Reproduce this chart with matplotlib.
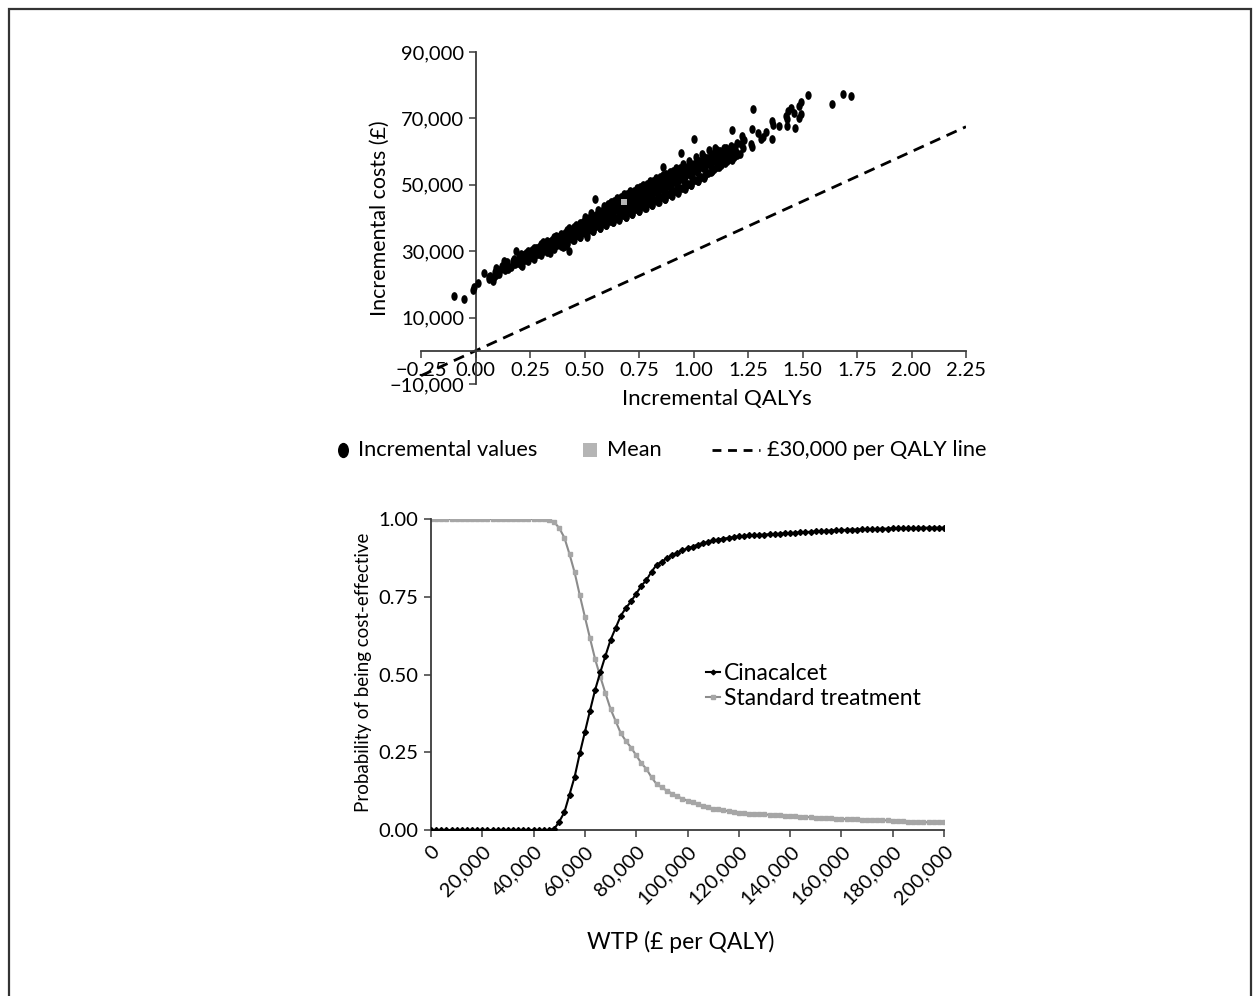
import matplotlib
matplotlib.use("Agg")
import matplotlib.pyplot as plt
import matplotlib.transforms as mtransforms
from matplotlib.path import Path
from matplotlib.lines import Line2D
from matplotlib.patches import Rectangle
from matplotlib.ticker import FuncFormatter
import numpy as np

plt.rcParams["font.family"] = ["Lato", "DejaVu Sans"]
plt.rcParams["axes.unicode_minus"] = True

# Incremental QALYs / incremental costs (GBP) from the PSA runs
psa_points = [
    # low tail
    (-0.097, 16600), (-0.051, 15600), (-0.009, 19100), (-0.013, 18300), (0.011, 20400),
    (0.037, 23300), (0.062, 22100), (0.080, 21100), (0.094, 22800), (0.131, 26900),
    (0.137, 25100), (0.174, 26100), (0.184, 30100), (0.212, 25600), (0.06, 21500),
    (0.065, 22400), (0.085, 22300), (0.09, 23600), (0.095, 24900),
    # main band
    (0.11, 23200), (0.115, 24500), (0.12, 25600),
    (0.135, 24300), (0.14, 25900), (0.145, 26800), (0.15, 24600),
    (0.165, 25300), (0.17, 26900), (0.175, 27800), (0.18, 26200),
    (0.195, 26500), (0.20, 28300), (0.205, 27200), (0.21, 29100), (0.21, 25700),
    (0.225, 27400), (0.23, 29500), (0.235, 28300), (0.24, 30200), (0.24, 26900),
    (0.255, 28200), (0.26, 30300), (0.265, 29200), (0.27, 31000), (0.27, 27800),
    (0.285, 29300), (0.29, 31300), (0.295, 30200), (0.30, 32100), (0.30, 28800),
    (0.315, 30300), (0.32, 32400), (0.325, 31200), (0.33, 33100), (0.33, 29900), (0.325, 30500),
    (0.345, 31100), (0.35, 33400), (0.355, 32200), (0.36, 34200), (0.36, 30800),
    (0.375, 32000), (0.38, 34400), (0.385, 33200), (0.39, 35300), (0.39, 31700),
    (0.405, 33000), (0.41, 35500), (0.415, 34200), (0.42, 36300), (0.42, 32600), (0.41, 31500),
    (0.435, 33900), (0.44, 36500), (0.445, 35100), (0.45, 37400), (0.45, 33500),
    (0.465, 34800), (0.47, 37600), (0.475, 36100), (0.48, 38500), (0.48, 34400),
    (0.495, 35700), (0.50, 38600), (0.505, 37100), (0.51, 39600), (0.51, 35300), (0.50, 40300),
    (0.525, 36600), (0.53, 39700), (0.535, 38100), (0.54, 40700), (0.54, 36200), (0.53, 41400),
    (0.555, 37500), (0.56, 40700), (0.565, 39000), (0.57, 41800), (0.57, 37000), (0.56, 42500),
    (0.585, 38400), (0.59, 41800), (0.595, 40000), (0.60, 42900), (0.60, 37900), (0.59, 43600),
    (0.615, 39200), (0.62, 42800), (0.625, 41000), (0.63, 44000), (0.63, 38700), (0.62, 44800),
    (0.645, 40100), (0.65, 43800), (0.655, 42000), (0.66, 45000), (0.66, 39500), (0.65, 46000),
    (0.675, 41000), (0.68, 44800), (0.685, 43000), (0.69, 46100), (0.69, 40300), (0.68, 47200), (0.685, 42000),
    (0.705, 41800), (0.71, 45800), (0.715, 44000), (0.72, 47100), (0.72, 41100), (0.71, 48100), (0.715, 43000),
    (0.735, 42700), (0.74, 46800), (0.745, 45000), (0.75, 48100), (0.75, 42000), (0.74, 49100), (0.745, 44000),
    (0.765, 43600), (0.77, 47800), (0.775, 46000), (0.78, 49200), (0.78, 42900), (0.77, 50000), (0.775, 45000),
    (0.795, 44500), (0.80, 48800), (0.805, 47000), (0.81, 50200), (0.81, 43800), (0.80, 51000), (0.805, 46000),
    (0.825, 45400), (0.83, 49800), (0.835, 48000), (0.84, 51200), (0.84, 44700), (0.83, 52000), (0.835, 47000),
    (0.855, 46300), (0.86, 50800), (0.865, 49000), (0.87, 52200), (0.87, 45600), (0.86, 53000), (0.865, 48000),
    (0.885, 47200), (0.89, 51800), (0.895, 50000), (0.90, 53200), (0.90, 46600), (0.89, 54000), (0.895, 49000),
    (0.915, 48100), (0.92, 52800), (0.925, 51000), (0.93, 54300), (0.93, 47600), (0.92, 55200), (0.925, 50000),
    (0.945, 49100), (0.95, 53800), (0.955, 52000), (0.96, 55300), (0.96, 48700), (0.95, 56200), (0.955, 51000),
    (0.975, 50200), (0.98, 54800), (0.985, 53000), (0.99, 56300), (0.99, 49900), (0.98, 57200),
    (1.005, 51300), (1.01, 55800), (1.015, 54000), (1.02, 57300), (1.02, 51000), (1.01, 58300),
    (1.035, 52400), (1.04, 56800), (1.045, 55000), (1.05, 58300), (1.05, 52300), (1.04, 59400),
    (1.065, 53500), (1.07, 57800), (1.075, 56000), (1.08, 59400), (1.08, 54000), (1.07, 60400),
    (1.095, 54800), (1.10, 58800), (1.105, 57000), (1.11, 60400), (1.11, 55500), (1.10, 61000),
    (1.125, 56000), (1.13, 59700), (1.135, 58000), (1.14, 61200), (1.14, 57000),
    (1.155, 57200), (1.16, 60500), (1.165, 59000), (1.17, 61600), (1.17, 57800),
    (1.185, 58300), (1.19, 61400), (1.195, 60000), (1.20, 62600), (1.20, 59000),
    (1.215, 59400), (1.22, 62400), (1.225, 61000), (1.23, 63600),
    # core, in-between runs
    (0.215, 26900), (0.218, 28900), (0.212, 27900),
    (0.245, 27900), (0.248, 29900), (0.242, 28900),
    (0.275, 28900), (0.278, 30900), (0.272, 29900),
    (0.305, 29900), (0.308, 31900), (0.302, 30900), (0.311, 32700),
    (0.335, 30900), (0.338, 32900), (0.332, 31900), (0.341, 29600),
    (0.365, 31800), (0.368, 33900), (0.362, 32900), (0.371, 34600),
    (0.395, 32700), (0.398, 34900), (0.392, 33900), (0.401, 31400),
    (0.425, 33600), (0.428, 35900), (0.422, 34800), (0.431, 36900), (0.419, 32300),
    (0.455, 34500), (0.458, 36900), (0.452, 35800), (0.461, 37900), (0.449, 33400),
    (0.485, 35400), (0.488, 37900), (0.482, 36700), (0.491, 38900), (0.479, 34300),
    (0.515, 36300), (0.518, 38900), (0.512, 37600), (0.521, 40000), (0.509, 35200),
    (0.545, 37200), (0.548, 39900), (0.542, 38600), (0.551, 41000), (0.539, 36100),
    (0.575, 38100), (0.578, 40900), (0.572, 39600), (0.581, 42100), (0.569, 36900),
    (0.605, 39000), (0.608, 41900), (0.602, 40600), (0.611, 43100), (0.599, 37800), (0.606, 44100),
    (0.635, 39900), (0.638, 42900), (0.632, 41500), (0.641, 44100), (0.629, 38700), (0.636, 45100),
    (0.665, 40800), (0.668, 43900), (0.662, 42500), (0.671, 45100), (0.659, 39600), (0.666, 46200),
    (0.695, 41700), (0.698, 44900), (0.692, 43400), (0.701, 46200), (0.689, 40400), (0.696, 47200),
    (0.725, 42600), (0.728, 45900), (0.722, 44400), (0.731, 47200), (0.719, 41300), (0.726, 48200),
    (0.755, 43500), (0.758, 46900), (0.752, 45400), (0.761, 48200), (0.749, 42200), (0.756, 49200),
    (0.785, 44400), (0.788, 47900), (0.782, 46400), (0.791, 49200), (0.779, 43100), (0.786, 50200),
    (0.815, 45300), (0.818, 48900), (0.812, 47400), (0.821, 50200), (0.809, 44000), (0.816, 51200),
    (0.845, 46200), (0.848, 49900), (0.842, 48400), (0.851, 51200), (0.839, 44900), (0.846, 52200),
    (0.875, 47100), (0.878, 50900), (0.872, 49400), (0.881, 52200), (0.869, 45800), (0.876, 53200),
    (0.905, 48000), (0.908, 51900), (0.902, 50400), (0.911, 53200), (0.899, 46800), (0.906, 54200),
    (0.935, 49000), (0.938, 52900), (0.932, 51400), (0.941, 54200), (0.929, 47800), (0.936, 55200),
    (0.965, 50000), (0.968, 53900), (0.962, 52400), (0.971, 55200), (0.959, 48900),
    (0.995, 51000), (0.998, 54900), (0.992, 53400), (1.001, 56200), (0.989, 49900),
    (1.025, 52000), (1.028, 55900), (1.022, 54400), (1.031, 57200), (1.019, 51000),
    (1.055, 53100), (1.058, 56900), (1.052, 55400), (1.061, 58200), (1.049, 52000),
    (1.085, 54200), (1.088, 57900), (1.082, 56400), (1.091, 59200),
    (1.115, 55300), (1.118, 58900), (1.112, 57400), (1.121, 60200),
    (1.145, 56500), (1.148, 59900), (1.142, 58400), (1.151, 61000),
    (1.175, 57600), (1.178, 60900), (1.172, 59400),
    # high tail
    (0.431, 30100), (0.512, 34200), (0.549, 45700), (0.858, 55300), (0.943, 59600),
    (1.003, 63800), (1.175, 66400), (1.224, 64600), (1.228, 63600), (1.265, 62300),
    (1.267, 61500), (1.267, 66700), (1.271, 72700), (1.295, 65600), (1.308, 63800),
    (1.317, 64400), (1.331, 65900), (1.361, 63800), (1.361, 69200), (1.364, 68100),
    (1.392, 67700), (1.424, 70600), (1.430, 69900), (1.430, 67700), (1.435, 72100),
    (1.445, 73100), (1.462, 71600), (1.467, 67100), (1.484, 70200), (1.486, 73600),
    (1.492, 74900), (1.492, 71200), (1.524, 77100), (1.636, 74200), (1.687, 77200),
    (1.724, 76600),
]
mean_qaly = 0.68
mean_cost = 44800
threshold = 30000  # GBP per QALY

# Cost-effectiveness acceptability curves
wtp = np.arange(0, 200001, 2000)
cinacalcet = [0.0] * 24 + [
    0.003, 0.027, 0.057, 0.114, 0.171, 0.246, 0.315, 0.384, 0.451, 0.507,
    0.560, 0.611, 0.650, 0.689, 0.714, 0.735, 0.760, 0.785, 0.804, 0.831,
    0.853, 0.863, 0.874, 0.883, 0.892, 0.899, 0.906, 0.911, 0.918, 0.922,
    0.926, 0.931, 0.934, 0.937, 0.939, 0.942, 0.944, 0.946, 0.947, 0.948,
    0.949, 0.950, 0.951, 0.952, 0.953, 0.954, 0.955, 0.956, 0.957, 0.958,
    0.959, 0.960, 0.961, 0.962, 0.963, 0.964, 0.965, 0.965, 0.966, 0.966,
    0.967, 0.967, 0.968, 0.968, 0.969, 0.969, 0.970, 0.970, 0.971, 0.971,
    0.971, 0.971, 0.972, 0.972, 0.972, 0.972, 0.972,
]
standard = [1.0] * 23 + [
    0.998, 0.990, 0.971, 0.940, 0.887, 0.828, 0.755, 0.685, 0.616, 0.549,
    0.493, 0.440, 0.389, 0.350, 0.311, 0.286, 0.265, 0.240, 0.215, 0.196,
    0.169, 0.147, 0.137, 0.126, 0.117, 0.108, 0.101, 0.094, 0.089, 0.082,
    0.078, 0.074, 0.069, 0.066, 0.063, 0.061, 0.058, 0.056, 0.054, 0.053,
    0.052, 0.051, 0.050, 0.049, 0.048, 0.047, 0.046, 0.045, 0.044, 0.043,
    0.042, 0.041, 0.040, 0.039, 0.038, 0.037, 0.036, 0.035, 0.035, 0.034,
    0.034, 0.033, 0.033, 0.032, 0.032, 0.031, 0.031, 0.030, 0.030, 0.029,
    0.027, 0.026, 0.026, 0.025, 0.025, 0.025, 0.025, 0.025,
]

qaly, cost = np.array(psa_points).T

FS = 14.5
AXC = "#3a3a3a"
ellipse = Path.unit_circle().transformed(mtransforms.Affine2D().scale(0.72, 1.0))


def fx(px):
    return px / 1260


def fy(py):
    return 1 - py / 996


fig = plt.figure(figsize=(12.6, 9.96), dpi=100)

# page frame
fig.patches.append(Rectangle((fx(9), -0.02), 1242 / 1260, 1.011, transform=fig.transFigure,
                             fill=False, ec="#333333", lw=1.6))

# ---- cost-effectiveness plane ----
ax1 = fig.add_axes([fx(421), fy(384), 545 / 1260, 332 / 996])
ax1.plot([-0.25, 2.25], [-0.25 * threshold, 2.25 * threshold], color="black",
         lw=2.0, ls=(0, (4, 2.5)), zorder=2)
ax1.plot(qaly, cost, ls="none", marker=ellipse, ms=6.3, color="black", mew=0, zorder=3)
ax1.plot([mean_qaly], [mean_cost], ls="none", marker="s", ms=5, color="#b5b5b5", mew=0, zorder=4)
ax1.set_xlim(-0.25, 2.25)
ax1.set_ylim(-10000, 90000)
ax1.set_xticks(np.arange(-0.25, 2.26, 0.25))
ax1.set_yticks([-10000, 10000, 30000, 50000, 70000, 90000])
ax1.xaxis.set_major_formatter(FuncFormatter(lambda v, p: f"{v:.2f}".replace("-", "\u2212")))
ax1.yaxis.set_major_formatter(FuncFormatter(lambda v, p: f"{v:,.0f}".replace("-", "\u2212")))
ax1.spines["left"].set_position(("data", 0))
ax1.spines["bottom"].set_position(("data", 0))
for s in ["top", "right"]:
    ax1.spines[s].set_visible(False)
for s in ["left", "bottom"]:
    ax1.spines[s].set_color(AXC)
    ax1.spines[s].set_linewidth(1.3)
ax1.tick_params(direction="out", length=5, width=1.1, color=AXC, labelsize=FS, pad=3)
ax1.set_xlabel("Incremental QALYs", fontsize=16)
ax1.xaxis.set_label_coords(0.543, -0.015)
ax1.set_ylabel("Incremental costs (£)", fontsize=15.4)
ax1.yaxis.set_label_coords(-0.057, 0.5)
ax1.patch.set_visible(False)

# legend row under the plane
LY = fy(450)
LFS = 15.7
fig.add_artist(Line2D([fx(343)], [LY], transform=fig.transFigure, ls="none",
                      marker=ellipse, ms=11, color="black", mew=0))
fig.text(fx(358), LY, "Incremental values", fontsize=LFS, va="center", ha="left")
fig.add_artist(Line2D([fx(590)], [LY], transform=fig.transFigure, ls="none",
                      marker="s", ms=9.5, color="#b5b5b5", mew=0))
fig.text(fx(607), LY, "Mean", fontsize=LFS, va="center", ha="left")
fig.add_artist(Line2D([fx(712), fx(760)], [LY, LY], transform=fig.transFigure,
                      color="black", lw=2.0, ls=(0, (3.2, 2.4))))
fig.text(fx(767), LY, "£30,000 per QALY line", fontsize=LFS, va="center", ha="left")

# ---- acceptability curves ----
ax2 = fig.add_axes([fx(431), fy(830), 513 / 1260, 311 / 996])
ax2.plot(wtp, standard, color="#8c8c8c", lw=1.5, marker="s", ms=3.5, mfc="#a6a6a6",
         mec="#a6a6a6", label="Standard treatment", zorder=2)
ax2.plot(wtp, cinacalcet, color="black", lw=1.5, marker="D", ms=3, mfc="black",
         mec="black", label="Cinacalcet", zorder=3)
ax2.set_xlim(0, 200000)
ax2.set_ylim(0, 1.0)
ax2.set_xticks(np.arange(0, 200001, 20000))
ax2.set_yticks([0, 0.25, 0.5, 0.75, 1.0])
ax2.xaxis.set_major_formatter(FuncFormatter(lambda v, p: f"{v:,.0f}"))
ax2.yaxis.set_major_formatter(FuncFormatter(lambda v, p: f"{v:.2f}"))
for s in ["top", "right"]:
    ax2.spines[s].set_visible(False)
for s in ["left", "bottom"]:
    ax2.spines[s].set_color(AXC)
    ax2.spines[s].set_linewidth(1.3)
ax2.tick_params(direction="out", length=5, width=1.1, color=AXC, labelsize=FS, pad=4)
for lab in ax2.get_xticklabels():
    lab.set_rotation(45)
    lab.set_ha("right")
    lab.set_va("top")
    lab.set_rotation_mode("anchor")
ax2.set_xlabel("WTP (£ per QALY)", fontsize=16.5)
ax2.xaxis.set_label_coords(0.487, -0.325)
ax2.set_ylabel("Probability of being cost-effective", fontsize=13.5)
ax2.yaxis.set_label_coords(-0.115, 0.508)
h2, l2 = ax2.get_legend_handles_labels()
ax2.legend(h2[::-1], l2[::-1], loc="center left", bbox_to_anchor=(0.536, 0.463), frameon=False,
           fontsize=16.5, handlelength=0.6, handletextpad=0.2, labelspacing=0.2,
           borderpad=0, borderaxespad=0, markerscale=0.8)

fig.savefig("out.png", dpi=100)
